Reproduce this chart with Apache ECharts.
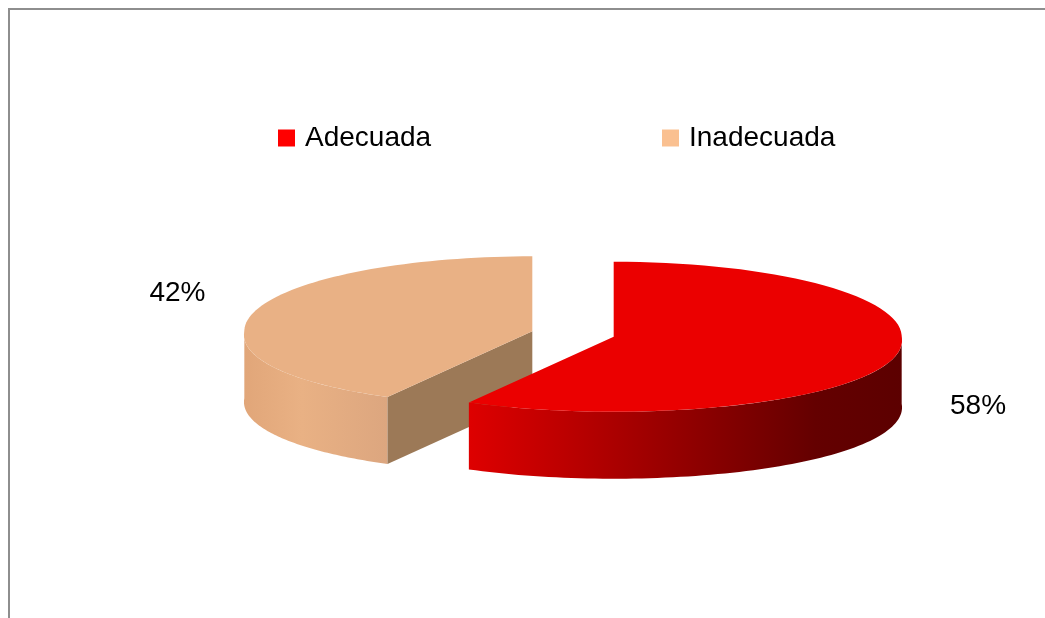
<!DOCTYPE html>
<html>
<head>
<meta charset="utf-8">
<script src="https://cdn.jsdelivr.net/npm/echarts@6/dist/echarts.min.js"></script>
<style>
  html, body { margin: 0; padding: 0; background: #fff; }
  #chart { width: 1045px; height: 618px; }
</style>
</head>
<body>
<div id="chart"></div>
<script>
// datos
var categories = ["Adecuada", "Inadecuada"];
var values = [58, 42];

// estilos
var legendColors = ["#FF0000", "#FAC090"];
var topColors = ["#EB0000", "#E9B185"];
var faceColors = ["#7A0000", "#9C7957"];
var wallStops = [
  [[0, "#DE0000"], [0.8, "#640000"], [1, "#5C0000"]],
  [[0, "#E1A679"], [0.4, "#E9B184"], [1, "#DCA67F"]]
];
var labelDx = [0, 5];
var labelDy = [46, -14];

// geometria de la torta 3D
var CX = 573, CY = 334, RX = 288, RY = 75, DEPTH = 67, EXPLODE = 42;
var PERSP = 0.05; // el frente se ve un poco mas ancho
var FONT = "Liberation Sans";

var total = values.reduce(function (s, v) { return s + v; }, 0);

function pt(ax, ay, t, k) {
  var w = 1 + PERSP * Math.max(0, -Math.cos(t));
  return [ax + RX * k * w * Math.sin(t), ay - RY * k * Math.cos(t)];
}
function arc(ax, ay, t0, t1, dy) {
  var pts = [], n = 80;
  for (var i = 0; i <= n; i++) {
    var p = pt(ax, ay, t0 + (t1 - t0) * i / n, 1);
    pts.push([p[0], p[1] + dy]);
  }
  return pts;
}

function makeRender(idx) {
  return function (params, api) {
    var v = api.value(0);
    var before = 0;
    for (var i = 0; i < idx; i++) before += values[i];
    var start = before / total * Math.PI * 2;
    var end = start + v / total * Math.PI * 2;
    var mid = (start + end) / 2;
    var ax = CX + EXPLODE * Math.sin(mid);
    var ay = CY - EXPLODE * Math.cos(mid) * RY / RX;
    var children = [];

    // pared exterior visible (mitad delantera)
    var w0 = Math.max(start, Math.PI / 2), w1 = Math.min(end, Math.PI * 1.5);
    if (w1 > w0) {
      var wall = arc(ax, ay, w0, w1, 0).concat(arc(ax, ay, w1, w0, DEPTH));
      children.push({
        type: "polygon",
        shape: { points: wall },
        style: {
          fill: new echarts.graphic.LinearGradient(0, 0, 1, 0,
            wallStops[idx].map(function (s) { return { offset: s[0], color: s[1] }; }))
        }
      });
    }
    // caras de corte
    [[start, Math.sin(start) < -1e-6], [end, Math.sin(end) > 1e-6]].forEach(function (f) {
      if (!f[1]) return;
      var p = pt(ax, ay, f[0], 1);
      children.push({
        type: "polygon",
        shape: { points: [[ax, ay], p, [p[0], p[1] + DEPTH], [ax, ay + DEPTH]] },
        style: { fill: faceColors[idx] }
      });
    });
    // cara superior
    children.push({
      type: "polygon",
      shape: { points: [[ax, ay]].concat(arc(ax, ay, start, end, 0)) },
      style: { fill: topColors[idx] }
    });
    // etiqueta
    var lp = pt(ax, ay, mid, 1.29);
    children.push({
      type: "text",
      x: lp[0] + labelDx[idx],
      y: lp[1] + labelDy[idx],
      style: {
        text: Math.round(v / total * 100) + "%",
        fontSize: 28,
        fontFamily: FONT,
        fill: "#000",
        align: "center",
        verticalAlign: "middle"
      }
    });
    return { type: "group", children: children };
  };
}

var myChart = echarts.init(document.getElementById("chart"));

var legendBase = {
  top: 124,
  padding: 0,
  icon: "rect",
  itemWidth: 17,
  itemHeight: 17,
  selectedMode: false,
  textStyle: { fontSize: 28, fontFamily: FONT, color: "#000", padding: [0, 0, 0, 5] }
};

var option = {
  animation: false,
  backgroundColor: "#fff",
  legend: [
    Object.assign({}, legendBase, { data: [categories[0]], left: 278 }),
    Object.assign({}, legendBase, { data: [categories[1]], left: 662 })
  ],
  graphic: [
    {
      type: "rect",
      shape: { x: 9, y: 9, width: 1200, height: 800 },
      style: { fill: "none", stroke: "#8E8E8E", lineWidth: 2 },
      silent: true
    }
  ],
  series: categories.map(function (name, i) {
    return {
      name: name,
      type: "custom",
      coordinateSystem: "none",
      z: i === 0 ? 3 : 2,
      itemStyle: { color: legendColors[i] },
      renderItem: makeRender(i),
      data: [[values[i]]]
    };
  })
};

myChart.setOption(option);
window.addEventListener("resize", function () {
  myChart.resize();
});
</script>
</body>
</html>
